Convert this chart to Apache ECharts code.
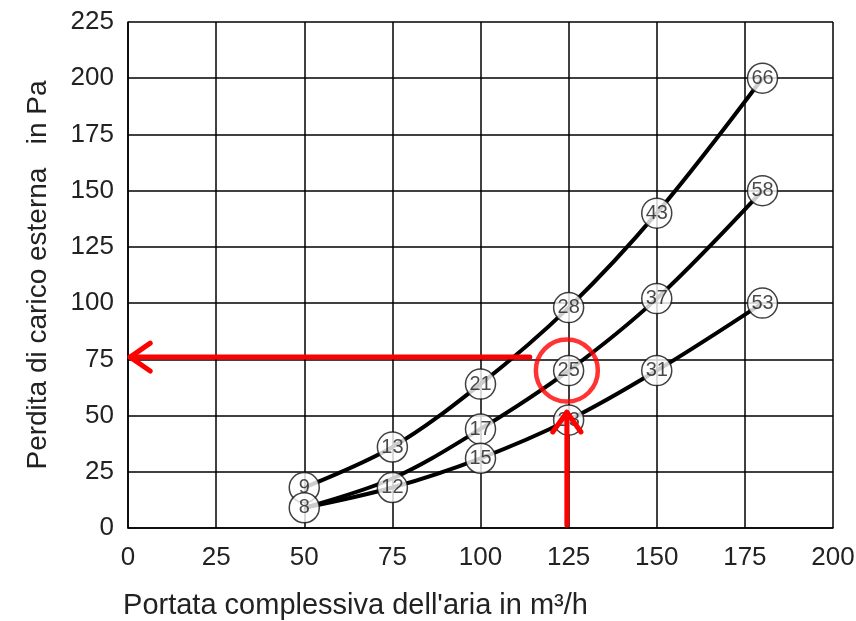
<!DOCTYPE html>
<html>
<head>
<meta charset="utf-8">
<script src="https://cdn.jsdelivr.net/npm/echarts@6/dist/echarts.min.js"></script>
<style>
  html, body { margin: 0; padding: 0; background: #fff; }
  #chart { width: 856px; height: 621px; }
</style>
</head>
<body>
<div id="chart"></div>
<script>
// portata (m³/h) dei punti misurati
const flows = [50, 75, 100, 125, 150, 180];

// perdita di carico (Pa) per le tre curve
const upperValues = [18, 36, 64, 98, 140, 200];
const middleValues = [9, 22, 44, 70, 102, 150];
const lowerValues = [9, 18, 31, 48, 70, 100];

// numeri nei cerchietti (null = nessun cerchietto)
const upperLabels = ['9', '13', '21', '28', '43', '66'];
const middleLabels = [null, null, '17', '25', '37', '58'];
const lowerLabels = ['8', '12', '15', '23', '31', '53'];

// annotazione rossa: punto
const readFlow = 124.5;
const readLoss = 76;
const circleLoss = 70;

const xTicks = [0, 25, 50, 75, 100, 125, 150, 175, 200];
const yTicks = [0, 25, 50, 75, 100, 125, 150, 175, 200, 225];

const FONT = 'Liberation Sans, Arial, sans-serif';

const toPairs = (vals) => flows.map((f, i) => [f, vals[i]]);

const lineSeries = (vals) => ({
  type: 'line',
  data: toPairs(vals),
  smooth: 0.35,
  showSymbol: false,
  lineStyle: { color: '#000', width: 4 },
  z: 3,
  silent: true
});

const markerSeries = (vals, labels) => ({
  type: 'scatter',
  data: flows.map((f, i) => ({ value: [f, vals[i]], name: labels[i] }))
    .filter(d => d.name !== null),
  symbol: 'circle',
  symbolSize: 30,
  itemStyle: { color: '#fff', borderColor: '#111', borderWidth: 1.5 },
  label: {
    show: true,
    position: 'inside',
    formatter: p => p.name,
    color: '#1a1a1a',
    fontFamily: FONT,
    fontSize: 20
  },
  z: 5,
  silent: true
});

const redLine = (pts) => ({
  type: 'line',
  data: pts,
  showSymbol: false,
  lineStyle: { color: '#ff0000', width: 5, cap: 'round', join: 'round' },
  z: 7,
  silent: true
});

const chart = echarts.init(document.getElementById('chart'));

chart.setOption({
  animation: false,
  grid: { left: 128, right: 23, top: 22, bottom: 93, outerBoundsMode: 'none', containLabel: false },
  xAxis: {
    type: 'value',
    min: 0,
    max: 200,
    interval: 25,
    name: "Portata complessiva dell'aria in m³/h",
    nameLocation: 'middle',
    nameGap: 63,
    nameTextStyle: { fontFamily: FONT, fontSize: 29, color: '#222', padding: [0, 250, 0, 0] },
    axisLine: { show: true, lineStyle: { color: '#000', width: 1.5 } },
    axisTick: { show: false },
    axisLabel: {
      margin: 17,
      fontFamily: FONT,
      fontSize: 26,
      color: '#222',
      formatter: v => xTicks.includes(v) ? String(v) : ''
    },
    splitLine: { show: true, lineStyle: { color: '#000', width: 1.5 } }
  },
  yAxis: {
    type: 'value',
    min: 0,
    max: 225,
    interval: 25,
    name: 'Perdita di carico esterna   in Pa',
    nameLocation: 'middle',
    nameGap: 76,
    nameTextStyle: { fontFamily: FONT, fontSize: 28, color: '#222' },
    axisLine: { show: true, lineStyle: { color: '#000', width: 1.5 } },
    axisTick: { show: false },
    axisLabel: {
      margin: 14,
      fontFamily: FONT,
      fontSize: 26,
      color: '#222',
      formatter: v => yTicks.includes(v) ? String(v) : ''
    },
    splitLine: { show: true, lineStyle: { color: '#000', width: 1.5 } }
  },
  series: [
    lineSeries(upperValues),
    lineSeries(middleValues),
    lineSeries(lowerValues),
    markerSeries(upperValues, upperLabels),
    markerSeries(middleValues, middleLabels),
    markerSeries(lowerValues, lowerLabels),
    // freccia orizzontale verso l'asse y
    redLine([[114, readLoss], [0.6, readLoss]]),
    redLine([[6.3, readLoss + 6.2], [0.6, readLoss], [6.3, readLoss - 6.2]]),
    // freccia verticale dall'asse x
    redLine([[readFlow, 1.3], [readFlow, 51.5]]),
    redLine([[readFlow - 4, 42.7], [readFlow, 51.5], [readFlow + 4, 42.7]]),
    // cerchio rosso attorno al punto letto
    {
      type: 'scatter',
      data: [[readFlow, circleLoss]],
      symbol: 'circle',
      symbolSize: 62,
      itemStyle: { color: 'rgba(0,0,0,0)', borderColor: '#ff0000', borderWidth: 4.5 },
      z: 8,
      silent: true
    }
  ]
});
</script>
</body>
</html>
